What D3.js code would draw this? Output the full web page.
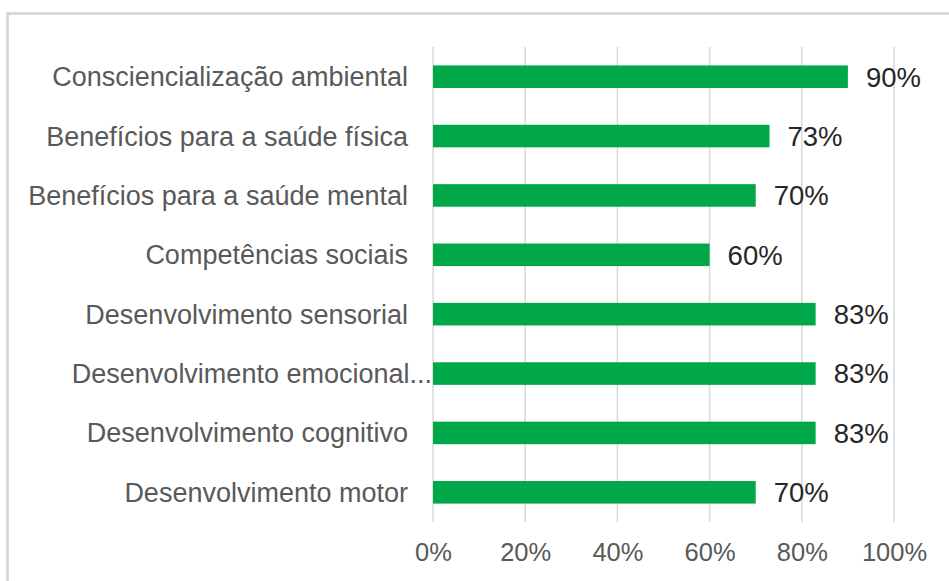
<!DOCTYPE html>
<html><head><meta charset="utf-8">
<script src="https://cdn.jsdelivr.net/npm/d3@7"></script>
<style>body{margin:0;background:#fff;}svg{display:block;font-family:"Liberation Sans",Arial,sans-serif;}</style>
</head><body>
<svg id="c" width="949" height="581"></svg>
<script>
const categories = [
  "Consciencialização ambiental",
  "Benefícios para a saúde física",
  "Benefícios para a saúde mental",
  "Competências sociais",
  "Desenvolvimento sensorial",
  "Desenvolvimento emocional...",
  "Desenvolvimento cognitivo",
  "Desenvolvimento motor"
];
const values = [0.90, 0.73, 0.70, 0.60, 0.83, 0.83, 0.83, 0.70];
const tickValues = [0, 0.2, 0.4, 0.6, 0.8, 1.0];

const svg = d3.select("#c");
const x = d3.scaleLinear().domain([0, 1]).range([433, 894]);
const y = d3.scaleBand().domain(categories).range([47, 522]).paddingInner(0.62).paddingOuter(0.31);

// frame
svg.append("line").attr("x1", 6).attr("x2", 949).attr("y1", 13.5).attr("y2", 13.5).attr("stroke", "#d9d9d9").attr("stroke-width", 3);
svg.append("line").attr("x1", 7.5).attr("x2", 7.5).attr("y1", 12).attr("y2", 581).attr("stroke", "#d9d9d9").attr("stroke-width", 3);

// gridlines
svg.append("g").selectAll("line").data(tickValues).join("line")
  .attr("x1", d => x(d)).attr("x2", d => x(d))
  .attr("y1", 47).attr("y2", 522)
  .attr("stroke", "#d9d9d9").attr("stroke-width", 1.5);

// x axis labels
const xAxis = d3.axisBottom(x).tickValues(tickValues).tickFormat(d3.format(".0%")).tickSize(0).tickPadding(0);
const gx = svg.append("g").attr("transform", "translate(0,543)").call(xAxis);
gx.select(".domain").remove();
gx.selectAll("text").attr("font-size", 25.5).attr("fill", "#595959").attr("dy", "0.71em").attr("font-family", "Liberation Sans, Arial, sans-serif");

// bars
svg.append("g").selectAll("rect").data(values).join("rect")
  .attr("x", x(0))
  .attr("y", (d, i) => y(categories[i]))
  .attr("width", d => x(d) - x(0))
  .attr("height", y.bandwidth())
  .attr("fill", "#00a84a");

// value labels
svg.append("g").selectAll("text").data(values).join("text")
  .attr("x", d => x(d) + 18)
  .attr("y", (d, i) => y(categories[i]) + y.bandwidth() / 2)
  .attr("dy", "0.36em")
  .attr("font-size", 27.5)
  .attr("fill", "#262626")
  .text(d => Math.round(d * 100) + "%");

// category labels
svg.append("g").selectAll("text").data(categories).join("text")
  .attr("x", d => d.endsWith("...") ? x(0) - 1 : x(0) - 25)
  .attr("y", d => y(d) + y.bandwidth() / 2)
  .attr("dy", "0.35em")
  .attr("text-anchor", "end")
  .attr("font-size", 27)
  .attr("fill", "#595959")
  .text(d => d);
</script>
</body></html>
